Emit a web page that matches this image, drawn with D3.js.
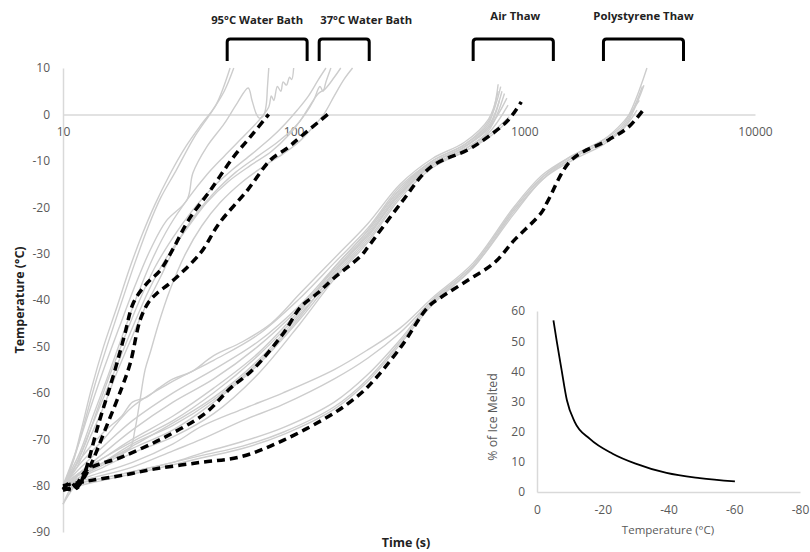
<!DOCTYPE html>
<html><head><meta charset="utf-8">
<script src="https://cdn.jsdelivr.net/npm/d3@7"></script>
<style>
body{margin:0;background:#fff}
svg{display:block}
text{font-family:"Open Sans",sans-serif}
</style>
</head><body>
<svg id="c" width="810" height="552"></svg>
<script>
// ---------- DATA ----------
const xTicks = [10, 100, 1000, 10000];
const yTicks = [-90, -80, -70, -60, -50, -40, -30, -20, -10, 0, 10];

// group labels and bracket time spans (s)
const groupNames = ["95°C Water Bath", "37°C Water Bath", "Air Thaw", "Polystyrene Thaw"];
const groupStart = [51.5, 129, 600, 2203];
const groupEnd   = [114.4, 212.6, 1336, 4898];

// individual runs (grey) [time s, temperature °C]
const grayWater = [
  [[10,-80],[11,-75],[12,-68],[13.3,-59],[15,-50],[17,-42],[19.5,-33],[22,-26],[25,-19.5],[29,-13],[34,-7],[40,-2],[46,2],[53,10]],
  [[10,-81],[11.2,-74],[12.3,-67],[13.8,-58],[15.5,-50],[17.8,-41],[20.5,-32],[23.5,-24],[26.5,-18],[31,-12],[37,-5],[44,0.5],[50,5],[55,10]],
  [[10,-80],[11.5,-72],[13,-64],[15,-55],[17.5,-46],[20.5,-37],[24,-29],[28,-23],[34.5,-18.4],[36.6,-12.6],[42,-7],[50,-2],[57,2.5],[63.5,5.7],[66,3],[69,0],[71,-0.8],[74,-0.3],[76,2],[77,6],[78,10]],
  [[10,-80],[11.8,-73],[13.5,-65],[15.5,-57],[18,-48],[21,-39],[24.5,-31],[29,-24],[35,-18],[42,-13],[50,-9],[60,-5],[70,-1.5],[78,1.6],[80,4],[82,3],[85,6],[88,5],[90,7],[93,6.3],[96,8],[98,7.5],[100,10]],
  [[10,-80],[11,-77],[12.5,-71],[14,-64],[16,-56],[18.5,-48],[21.5,-40],[25,-33],[30,-26.5],[36,-21],[44,-16],[54,-12],[66,-8.5],[80,-5],[92,-2],[104,1],[116,4],[128,7.5],[138,10]],
  [[10,-81],[11.5,-75],[13,-68.5],[15,-61],[17.5,-53],[20,-46],[23.5,-38],[28,-31],[34,-25],[42,-19],[52,-14.5],[65,-11],[80,-8],[95,-4.5],[108,-1],[118,2],[128,4.5],[137,5.5],[150,8],[160,10]],
  [[10,-84],[12,-77],[14.5,-75.5],[17,-73.5],[19.5,-72],[20.5,-68],[21.5,-62],[22.7,-55],[24,-51],[26,-45],[29,-38],[34,-30],[40,-24],[48,-19],[60,-14.5],[75,-11],[90,-8.5],[105,-6],[120,-3],[135,0],[150,4],[165,7.5],[180,10]],
  [[10,-80],[11.5,-76],[13,-70],[15,-63],[17,-56],[19.5,-49],[22.5,-42],[26.5,-35],[31,-28],[37,-22],[45,-17],[56,-12.5],[70,-9],[85,-6],[100,-3],[112,0],[122,3],[130,6],[134,5],[138,7],[145,10]]
];
const grayAir = [
  [[10,-80],[12,-74],[15,-68.5],[18,-65],[20,-62],[23,-61],[26,-59],[30,-57],[36,-55.5],[45,-52],[60,-49],[80,-45],[107,-38.5],[150,-31],[210,-23.5],[290,-15],[400,-9.5],[550,-6],[700,-1],[770,5]],
  [[10,-80],[12,-75],[15,-70],[20,-63],[30,-57.5],[45,-53],[70,-47.5],[107,-39.5],[150,-32],[210,-24.5],[290,-15.5],[400,-10],[550,-6.5],[700,-1.5],[790,6]],
  [[10,-80],[12,-76],[15,-71.5],[20,-66],[30,-60],[45,-55],[70,-49],[107,-41],[150,-33],[210,-25],[290,-16],[400,-10.5],[550,-7],[700,-2.5],[800,5]],
  [[10,-81],[12,-77],[15,-73],[20,-68],[30,-62],[45,-57],[70,-50],[107,-41.5],[150,-33.5],[210,-25.5],[290,-16.5],[400,-10.5],[550,-7],[700,-3],[780,3]],
  [[10,-80],[12,-77],[15,-74],[20,-70],[30,-65],[45,-59],[70,-51.5],[107,-42],[150,-34],[210,-26],[290,-17],[400,-11],[550,-7.5],[700,-3.5],[820,4.5]],
  [[10,-80],[12,-77.5],[15,-75],[20,-71.5],[30,-66.5],[45,-61],[70,-53],[107,-43],[150,-34.5],[210,-26.5],[290,-17],[400,-11],[550,-7.5],[700,-4],[850,2]],
  [[10,-81],[12,-78],[15,-75.5],[20,-72],[30,-68],[45,-62],[70,-54],[107,-44],[150,-35],[210,-27],[290,-17.5],[400,-11],[550,-8],[700,-4.5],[860,-0.5]],
  [[10,-80],[12,-77],[15,-74],[20,-70.5],[30,-66],[45,-60],[70,-52],[107,-42.5],[150,-33],[210,-25],[290,-16],[400,-10],[550,-6.5],[700,-2],[770,6.5]],
  [[10,-80],[12,-78],[15,-75],[20,-71],[30,-67],[45,-61.5],[70,-53.5],[107,-43.5],[150,-34],[210,-26],[290,-17],[400,-10.5],[550,-7],[700,-3],[840,3.5]],
  [[10,-84],[12,-78.5],[15,-76],[20,-73],[30,-69.5],[45,-64.5],[70,-56],[107,-45],[150,-35.5],[210,-27.5],[290,-18],[400,-11.5],[550,-8],[700,-5],[870,-1]]
];
const grayPoly = [
  [[10,-80],[13,-78],[20,-75],[30,-71],[40,-67.2],[60,-63.5],[90,-60],[150,-55],[210,-50.7],[290,-46],[400,-39.5],[600,-32],[900,-20],[1200,-13],[1600,-9],[2200,-5.5],[2700,-2],[3400,10]],
  [[10,-80],[13,-78.5],[20,-76],[30,-72.5],[40,-70],[60,-66],[90,-62.5],[150,-57],[210,-52.5],[290,-47],[400,-40],[600,-32.5],[900,-20.5],[1200,-13.5],[1600,-9.5],[2200,-6],[2700,-2.5],[3250,6]],
  [[10,-80],[13,-79],[20,-77],[30,-75],[40,-73.5],[60,-71.5],[90,-68.5],[150,-63],[210,-57],[290,-49],[400,-40.5],[600,-33],[900,-21],[1200,-14],[1600,-9.5],[2200,-6],[2700,-3],[3300,6.3]],
  [[10,-81],[13,-79.5],[20,-77.5],[30,-75.5],[40,-74],[60,-72],[90,-69],[150,-63.5],[210,-57.5],[290,-49.5],[400,-41],[600,-33],[900,-21.5],[1200,-14],[1600,-10],[2200,-6.5],[2700,-3],[3080,0.9]],
  [[10,-80],[13,-79],[20,-77],[30,-75],[40,-73],[60,-70.5],[90,-67.5],[150,-62],[210,-56],[290,-48.5],[400,-40],[600,-32.5],[900,-20.5],[1200,-13.5],[1600,-9],[2200,-5.5],[2700,-1.5],[3150,3]]
];

// group means (black dashed)
const meanWater95 = [[10,-80.8],[10.8,-79.3],[11.5,-80.5],[12.4,-77.3],[14.2,-67],[16.8,-55.1],[18.5,-47.5],[20.2,-40.6],[23,-36.5],[26.4,-33.6],[30,-29],[35,-22.8],[43.6,-16.3],[54.8,-9.2],[65,-4.8],[77.9,0]];
const meanWater37 = [[10,-80.5],[11.2,-80.8],[12.6,-77.5],[15.5,-67],[18.05,-58.7],[19.6,-53.5],[21.6,-44.3],[23.5,-40.5],[25.6,-38.5],[29.2,-36.3],[39.4,-29.9],[47.5,-23.5],[63.1,-16.3],[79.4,-9.8],[94.2,-7.2],[107.3,-4.8],[140.5,0]];
const meanAir = [[10,-81],[11.3,-80],[12.7,-76.6],[18.05,-73.8],[27.8,-69.5],[41.4,-64.4],[53.2,-59],[66.3,-55.1],[90.5,-47.1],[107.3,-41.5],[127.2,-38.5],[149.3,-35.3],[195.6,-30.5],[209.8,-28.6],[291.9,-19.1],[394,-11.3],[571,-7.6],[697.5,-4.8],[852,-1.2],[970,2.7]];
const meanPoly = [[10,-80],[12.84,-79],[18,-77.8],[25.1,-76.4],[39.4,-75],[58.85,-73.8],[90.5,-70.2],[149.3,-64.4],[180.5,-61.5],[209.8,-58.7],[291.9,-50.1],[382.4,-41.5],[435.8,-39.4],[571,-35.7],[740.6,-32],[904.6,-27.1],[1185,-21.2],[1272,-18.4],[1601,-9.8],[2318,-5.5],[2833,-2.7],[3325,1.4]];

// inset: % of ice melted vs temperature
const iceTemp = [-5, -6, -7.4, -9.1, -11.5, -16, -23, -30, -39.4, -49.5, -60.2];
const iceMelt = [56.9, 50, 41, 30.4, 23.2, 17.7, 12.7, 9.4, 6.3, 4.6, 3.5];
const insetXTicks = [0, -20, -40, -60, -80];
const insetYTicks = [0, 10, 20, 30, 40, 50, 60];

// ---------- DRAW ----------
const svg = d3.select("#c");
const axisCol = "#d9d9d9", textCol = "#595959";
const plain = d => String(d);   // hyphen-minus like the original

const x = d3.scaleLog().domain([10, 10000]).range([63, 755]);
const y = d3.scaleLinear().domain([-90, 10]).range([532, 68]);

function styleAxis(g) {
  g.select(".domain").attr("stroke", axisCol).attr("stroke-width", 1.5);
  g.selectAll("text").attr("fill", textCol).attr("font-size", 12)
    .style("font-family", '"Open Sans",sans-serif');
}

// y axis
svg.append("g").attr("transform", `translate(${x(10)},0)`)
  .call(d3.axisLeft(y).tickValues(yTicks).tickFormat(plain).tickSize(0).tickPadding(13))
  .call(styleAxis);

// x axis at 0
svg.append("g").attr("transform", `translate(0,${y(0)})`)
  .call(d3.axisBottom(x).tickValues(xTicks).tickFormat(plain).tickSize(0).tickPadding(13))
  .call(styleAxis);

// axis titles
svg.append("text").attr("transform", "translate(24,300) rotate(-90)")
  .attr("text-anchor", "middle").attr("font-size", 12.5).attr("font-weight", "bold")
  .attr("fill", "#222").text("Temperature (°C)");
svg.append("text").attr("x", 406).attr("y", 547)
  .attr("text-anchor", "middle").attr("font-size", 12.5).attr("font-weight", "bold")
  .attr("fill", "#222").text("Time (s)");

const line = d3.line().x(d => x(d[0])).y(d => y(d[1])).curve(d3.curveCatmullRom.alpha(0.5));

const grays = [].concat(grayWater, grayAir, grayPoly);
svg.append("g").selectAll("path").data(grays).join("path")
  .attr("d", line).attr("fill", "none").attr("stroke", "#cdcdcd").attr("stroke-width", 1.4);

const means = [meanWater95, meanWater37, meanAir, meanPoly];
svg.append("g").selectAll("path").data(means).join("path")
  .attr("d", line).attr("fill", "none").attr("stroke", "#000").attr("stroke-width", 3.5)
  .attr("stroke-dasharray", "8,5");

// brackets
const brTop = 16.25, brBot = 11.5, r = 3;
const labelDx = [-10, 22, 2, 0];
const labelY = [24, 24, 20, 20];
groupNames.forEach((nm, i) => {
  const x0 = x(groupStart[i]), x1 = x(groupEnd[i]), yt = y(brTop), yb = y(brBot);
  svg.append("path")
    .attr("d", `M${x0},${yb} L${x0},${yt + r} Q${x0},${yt} ${x0 + r},${yt} L${x1 - r},${yt} Q${x1},${yt} ${x1},${yt + r} L${x1},${yb}`)
    .attr("fill", "none").attr("stroke", "#000").attr("stroke-width", 3);
  svg.append("text").attr("x", (x0 + x1) / 2 + labelDx[i]).attr("y", labelY[i])
    .attr("text-anchor", "middle").attr("font-size", 11.3).attr("font-weight", "bold")
    .attr("fill", "#222").text(nm);
});

// inset
const xi = d3.scaleLinear().domain([0, -80]).range([537, 800]);
const yi = d3.scaleLinear().domain([0, 60]).range([492, 311]);
svg.append("g").attr("transform", `translate(0,${yi(0)})`)
  .call(d3.axisBottom(xi).tickValues(insetXTicks).tickFormat(plain).tickSize(0).tickPadding(13))
  .call(styleAxis);
svg.append("g").attr("transform", `translate(${xi(0)},0)`)
  .call(d3.axisLeft(yi).tickValues(insetYTicks).tickFormat(plain).tickSize(0).tickPadding(12))
  .call(styleAxis);

svg.append("text").attr("x", 668).attr("y", 534).attr("text-anchor", "middle")
  .attr("font-size", 11.5).attr("fill", textCol).text("Temperature (°C)");
svg.append("text").attr("transform", "translate(497,417) rotate(-90)").attr("text-anchor", "middle")
  .attr("font-size", 12.3).attr("fill", textCol).text("% of Ice Melted");

const iceData = iceTemp.map((t, i) => [t, iceMelt[i]]);
svg.append("path").datum(iceData)
  .attr("d", d3.line().x(d => xi(d[0])).y(d => yi(d[1])).curve(d3.curveMonotoneX))
  .attr("fill", "none").attr("stroke", "#000").attr("stroke-width", 1.8);
</script>
</body></html>
